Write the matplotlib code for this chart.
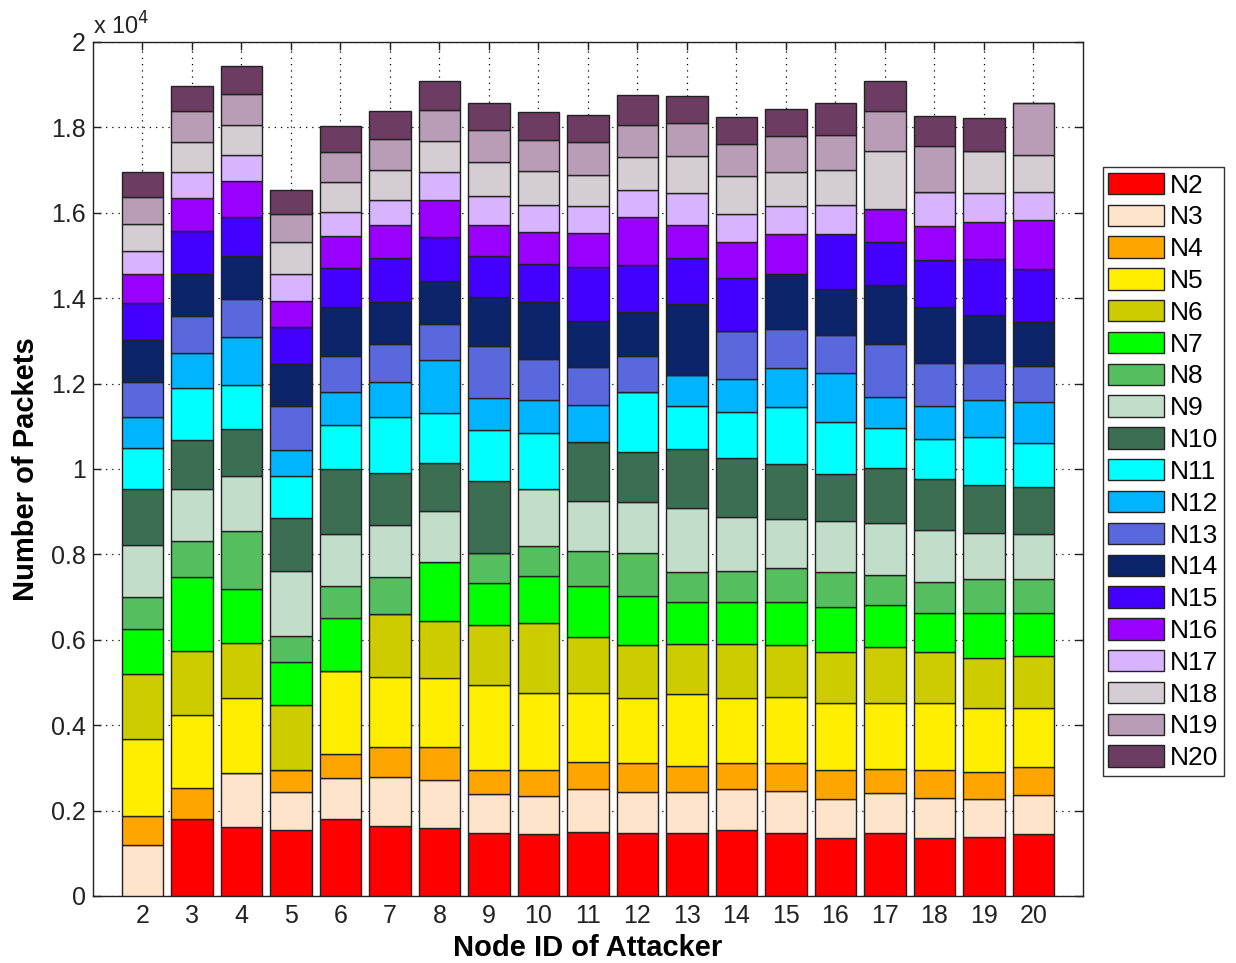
import matplotlib
matplotlib.use("Agg")
import matplotlib.pyplot as plt
import numpy as np
from matplotlib.ticker import FuncFormatter

plt.rcParams["font.family"] = ["Liberation Sans", "DejaVu Sans"]

attackers = list(range(2, 21))
nodes = [f"N{i}" for i in range(2, 21)]

# packets received from each node, one entry per attacker id (2..20);
# an attacker never counts its own packets, hence the zero
N2 = [0, 1804, 1624, 1546, 1804, 1640, 1586, 1469, 1453, 1507, 1483, 1483, 1546, 1483, 1352, 1483, 1352, 1389, 1453]
N3 = [1195, 0, 1265, 897, 954, 1155, 1132, 914, 890, 993, 961, 961, 954, 977, 921, 923, 951, 876, 914]
N4 = [680, 733, 0, 508, 569, 703, 780, 569, 609, 633, 665, 609, 609, 649, 679, 569, 649, 647, 649]
N5 = [1804, 1703, 1743, 0, 1938, 1640, 1603, 1992, 1797, 1617, 1523, 1673, 1523, 1553, 1577, 1553, 1577, 1485, 1382]
N6 = [1523, 1500, 1303, 1523, 0, 1462, 1343, 1406, 1640, 1312, 1249, 1179, 1272, 1211, 1181, 1312, 1181, 1186, 1225]
N7 = [1047, 1727, 1251, 1015, 1242, 0, 1375, 991, 1108, 1209, 1148, 991, 991, 1007, 1054, 977, 914, 1054, 1015]
N8 = [750, 858, 1366, 609, 764, 881, 0, 689, 703, 813, 1015, 703, 726, 797, 820, 703, 740, 783, 790]
N9 = [1225, 1204, 1272, 1523, 1211, 1211, 1202, 0, 1328, 1155, 1172, 1485, 1251, 1148, 1209, 1225, 1211, 1092, 1047]
N10 = [1305, 1155, 1111, 1242, 1523, 1218, 1118, 1694, 0, 1382, 1181, 1382, 1396, 1289, 1094, 1275, 1188, 1118, 1092]
N11 = [951, 1202, 1038, 961, 1015, 1296, 1172, 1179, 1312, 0, 1396, 1015, 1078, 1326, 1202, 937, 944, 1108, 1040]
N12 = [726, 829, 1118, 626, 773, 829, 1232, 759, 780, 883, 0, 726, 766, 923, 1157, 740, 773, 867, 961]
N13 = [829, 874, 897, 1015, 843, 890, 853, 1209, 954, 883, 843, 0, 1108, 914, 897, 1235, 1000, 876, 851]
N14 = [991, 977, 991, 1000, 1148, 984, 1015, 1148, 1326, 1085, 1031, 1657, 0, 1289, 1071, 1366, 1303, 1115, 1024]
N15 = [860, 1015, 914, 860, 923, 1031, 1015, 961, 907, 1249, 1111, 1078, 1251, 0, 1296, 1017, 1118, 1321, 1242]
N16 = [670, 766, 860, 600, 740, 764, 883, 726, 743, 806, 1115, 764, 834, 944, 0, 773, 797, 858, 1139]
N17 = [539, 600, 609, 642, 579, 602, 640, 696, 640, 623, 649, 759, 665, 640, 679, 0, 790, 689, 665]
N18 = [642, 712, 703, 740, 686, 703, 726, 790, 797, 743, 766, 874, 881, 797, 820, 1366, 0, 991, 858]
N19 = [633, 726, 726, 665, 703, 726, 743, 740, 726, 757, 757, 766, 759, 860, 820, 921, 1085, 0, 1228]
N20 = [576, 593, 640, 569, 609, 649, 663, 642, 640, 633, 703, 623, 633, 633, 743, 703, 703, 766, 0]

series = [N2, N3, N4, N5, N6, N7, N8, N9, N10, N11, N12, N13, N14, N15, N16, N17, N18, N19, N20]
colors = ["#FF0000", "#FFE4CC", "#FFA500", "#FFEE00", "#CCCC00", "#00FF00", "#55BF60",
          "#C2DDC9", "#3B6E53", "#00FFFF", "#00B4FF", "#5A68DD", "#0B246A", "#4400FF",
          "#9900FF", "#D8B4FF", "#D4CDD3", "#B99CB5", "#6C3C62"]

fig = plt.figure(figsize=(12.36, 9.63), dpi=100)
ax = fig.add_axes([0.0752, 0.0696, 0.801, 0.8868])

bottom = np.zeros(len(attackers))
for name, vals, col in zip(nodes, series, colors):
    vals = np.array(vals, dtype=float)
    ax.bar(attackers, vals, bottom=bottom, width=0.84, color=col,
           edgecolor="#222222", linewidth=1.0, label=name, zorder=3)
    bottom += vals

ax.set_xlim(1, 21)
ax.set_ylim(0, 20000)
ax.set_xticks(attackers)
ax.set_yticks(np.arange(0, 20001, 2000))
ax.yaxis.set_major_formatter(FuncFormatter(lambda v, p: f"{v / 1e4:g}"))
ax.tick_params(direction="in", length=6, width=1, top=True, right=True,
               labelsize=18, colors="#222222")
ax.tick_params(axis="y", pad=5)
ax.tick_params(axis="x", pad=6)
ax.grid(True, linestyle=(0, (1, 4)), color="black", linewidth=0.9, zorder=0)
ax.set_axisbelow(True)
for s in ax.spines.values():
    s.set_linewidth(1.0)
    s.set_color("#222222")

ax.text(0.0, 1.003, r"x 10$^4$", transform=ax.transAxes, fontsize=17,
        ha="left", va="bottom", color="#222222")
ax.set_xlabel("Node ID of Attacker", fontsize=21, fontweight="bold", labelpad=4)
ax.set_ylabel("Number of Packets", fontsize=21, fontweight="bold", labelpad=8)

leg = fig.legend(loc="upper left", bbox_to_anchor=(0.892, 0.8266),
                 fontsize=19, frameon=True, fancybox=False, edgecolor="black",
                 handlelength=2.12, handleheight=0.87, labelspacing=0.265,
                 handletextpad=0.2, borderpad=0.22, borderaxespad=0)
leg.get_frame().set_linewidth(1.0)

fig.savefig("out.png", dpi=100)
